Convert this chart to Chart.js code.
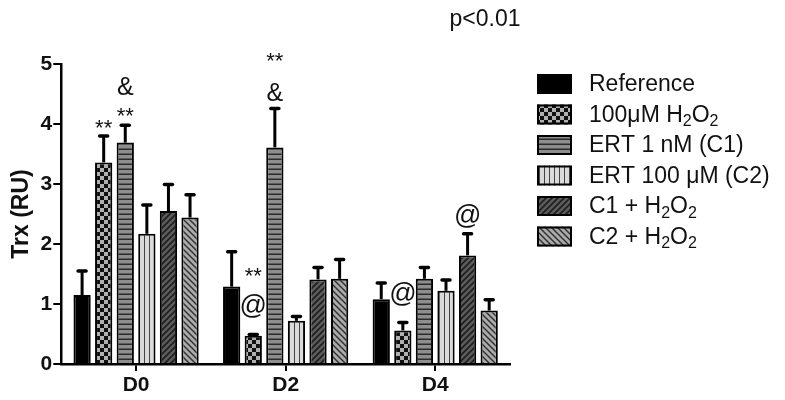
<!DOCTYPE html>
<html>
<head>
<meta charset="utf-8">
<script src="https://cdn.jsdelivr.net/npm/chart.js@4.4.1/dist/chart.umd.min.js"></script>
<style>
  html, body { margin: 0; padding: 0; background: #fff; }
  #wrap { width: 785px; height: 400px; }
</style>
</head>
<body>
<div id="wrap"><canvas id="trxChart" width="785" height="400"></canvas></div>
<script>
// days on the x axis
const days = ['D0', 'D2', 'D4'];
const seriesNames = ['Reference', '100μM H₂O₂', 'ERT 1 nM (C1)', 'ERT 100 μM (C2)', 'C1 + H₂O₂', 'C2 + H₂O₂'];

// mean values (RU)
const reference = [1.15, 1.29, 1.08];
const h2o2 = [3.36, 0.47, 0.56];
const ertC1 = [3.69, 3.61, 1.42];
const ertC2 = [2.17, 0.72, 1.22];
const c1H2o2 = [2.55, 1.41, 1.81];
const c2H2o2 = [2.44, 1.42, 0.89];

// upper error (SEM)
const referenceErr = [0.40, 0.58, 0.27];
const h2o2Err = [0.44, 0.02, 0.13];
const ertC1Err = [0.29, 0.65, 0.19];
const ertC2Err = [0.48, 0.07, 0.18];
const c1H2o2Err = [0.44, 0.20, 0.36];
const c2H2o2Err = [0.38, 0.32, 0.18];

const yTicks = [0, 1, 2, 3, 4, 5];

// significance marks, stacked bottom to top above each bar
const sigMarks = [
  { series: 1, day: 0, text: '**' },
  { series: 2, day: 0, text: '**' },
  { series: 2, day: 0, text: '&' },
  { series: 1, day: 1, text: '@' },
  { series: 1, day: 1, text: '**' },
  { series: 2, day: 1, text: '&' },
  { series: 2, day: 1, text: '**' },
  { series: 1, day: 2, text: '@' },
  { series: 4, day: 2, text: '@' },
];

const FONT = "'Liberation Sans', Arial, sans-serif";

function tile(w, h, draw) {
  const c = document.createElement('canvas');
  c.width = w; c.height = h;
  const g = c.getContext('2d');
  draw(g, w, h);
  return document.createElement('canvas').getContext('2d').createPattern(c, 'repeat');
}

const checker = tile(8, 8, (g) => {
  g.fillStyle = '#b0b0b0'; g.fillRect(0, 0, 8, 8);
  g.fillStyle = '#111'; g.fillRect(0, 0, 4, 4); g.fillRect(4, 4, 4, 4);
});
const hStripes = tile(6, 5, (g) => {
  g.fillStyle = '#8e8e8e'; g.fillRect(0, 0, 6, 5);
  g.fillStyle = '#2a2a2a'; g.fillRect(0, 3.5, 6, 1.5);
});
const vStripes = tile(5, 6, (g) => {
  g.fillStyle = '#dadada'; g.fillRect(0, 0, 5, 6);
  g.fillStyle = '#444'; g.fillRect(4, 0, 1, 6);
});
const diagUp = tile(6, 6, (g) => {
  g.fillStyle = '#5c5c5c'; g.fillRect(0, 0, 6, 6);
  g.strokeStyle = '#1e1e1e'; g.lineWidth = 1.6;
  g.beginPath();
  g.moveTo(0, 6); g.lineTo(6, 0);
  g.moveTo(-1, 1); g.lineTo(1, -1);
  g.moveTo(5, 7); g.lineTo(7, 5);
  g.stroke();
});
const diagDown = tile(6, 6, (g) => {
  g.fillStyle = '#ababab'; g.fillRect(0, 0, 6, 6);
  g.strokeStyle = '#333'; g.lineWidth = 1.5;
  g.beginPath();
  g.moveTo(0, 0); g.lineTo(6, 6);
  g.moveTo(-1, 5); g.lineTo(1, 7);
  g.moveTo(5, -1); g.lineTo(7, 1);
  g.stroke();
});

const fills = ['#000', checker, hStripes, vStripes, diagUp, diagDown];
const values = [reference, h2o2, ertC1, ertC2, c1H2o2, c2H2o2];
const errors = [referenceErr, h2o2Err, ertC1Err, ertC2Err, c1H2o2Err, c2H2o2Err];

const errorBars = {
  id: 'errorBars',
  afterDatasetsDraw(chart) {
    const ctx = chart.ctx;
    const y = chart.scales.y;
    ctx.save();
    ctx.strokeStyle = '#000';
    chart.data.datasets.forEach((ds, i) => {
      const meta = chart.getDatasetMeta(i);
      meta.data.forEach((bar, j) => {
        const top = y.getPixelForValue(ds.data[j] + ds.err[j]);
        ctx.lineWidth = 3;
        ctx.lineCap = 'butt';
        ctx.beginPath();
        ctx.moveTo(bar.x, bar.y);
        ctx.lineTo(bar.x, top);
        ctx.stroke();
        ctx.lineWidth = 3.5;
        ctx.lineCap = 'round';
        ctx.beginPath();
        ctx.moveTo(bar.x - 4, top);
        ctx.lineTo(bar.x + 4, top);
        ctx.stroke();
      });
    });
    ctx.restore();
  }
};

const marksPlugin = {
  id: 'marks',
  afterDatasetsDraw(chart, args, opts) {
    const ctx = chart.ctx;
    const y = chart.scales.y;
    const stackTop = {};
    ctx.save();
    ctx.fillStyle = '#111';
    ctx.textAlign = 'center';
    ctx.textBaseline = 'alphabetic';
    sigMarks.forEach((m, k) => {
      const ds = chart.data.datasets[m.series];
      const bar = chart.getDatasetMeta(m.series).data[m.day];
      const key = m.series + '-' + m.day;
      let bottom = stackTop[key];
      if (bottom === undefined) bottom = y.getPixelForValue(ds.data[m.day] + ds.err[m.day]);
      bottom -= opts.gaps[k];
      ctx.font = opts.sizes[m.text] + 'px ' + FONT;
      const tm = ctx.measureText(m.text);
      const desc = tm.actualBoundingBoxDescent;
      ctx.fillText(m.text, bar.x, bottom - desc);
      stackTop[key] = bottom - desc - tm.actualBoundingBoxAscent;
    });
    // p value note
    ctx.font = '23px ' + FONT;
    ctx.textBaseline = 'middle';
    ctx.fillText('p<0.01', chart.chartArea.right - 25, 20);
    ctx.restore();
  }
};

// legend drawn by hand so the text can carry real subscripts
function drawLabel(ctx, text, x, y, size) {
  let cx = x;
  for (const ch of text) {
    if (ch === '₂') {
      ctx.font = Math.round(size * 0.68) + 'px ' + FONT;
      ctx.fillText('2', cx, y + size * 0.28);
      cx += ctx.measureText('2').width;
    } else {
      ctx.font = size + 'px ' + FONT;
      ctx.fillText(ch, cx, y);
      cx += ctx.measureText(ch).width;
    }
  }
}

const sideLegend = {
  id: 'sideLegend',
  afterDraw(chart, args, opts) {
    const ctx = chart.ctx;
    const left = chart.chartArea.right + opts.offset;
    ctx.save();
    ctx.textAlign = 'left';
    ctx.textBaseline = 'middle';
    chart.data.datasets.forEach((ds, i) => {
      const top = chart.chartArea.top + opts.top + i * opts.rowHeight;
      ctx.fillStyle = ds.backgroundColor;
      ctx.fillRect(left, top, opts.boxWidth, opts.boxHeight);
      ctx.strokeStyle = '#000';
      ctx.lineWidth = 2;
      ctx.strokeRect(left + 1, top + 1, opts.boxWidth - 2, opts.boxHeight - 2);
      ctx.fillStyle = '#111';
      drawLabel(ctx, ds.label, left + opts.boxWidth + opts.gap, top + opts.boxHeight / 2 + 1, opts.fontSize);
    });
    ctx.restore();
  }
};

new Chart(document.getElementById('trxChart'), {
  type: 'bar',
  data: {
    labels: days,
    datasets: seriesNames.map((name, i) => ({
      label: name,
      data: values[i],
      err: errors[i],
      backgroundColor: fills[i],
      borderColor: '#000',
      borderWidth: 2,
      categoryPercentage: 0.866,
      barPercentage: 0.8,
    })),
  },
  options: {
    responsive: false,
    animation: false,
    devicePixelRatio: 1,
    layout: { padding: { top: 64, right: 275, bottom: 0, left: 6 } },
    scales: {
      x: {
        grid: { display: true, drawOnChartArea: false, offset: false, tickLength: 7, color: '#000', lineWidth: 2 },
        border: { display: true, color: '#000', width: 2.5 },
        ticks: { color: '#111', font: { family: FONT, size: 21, weight: 'bold', lineHeight: 1 }, padding: 4 },
      },
      y: {
        min: 0,
        max: 5,
        afterBuildTicks: (s) => { s.ticks = yTicks.map(v => ({ value: v })); },
        grid: { display: true, drawOnChartArea: false, tickLength: 8, color: '#000', lineWidth: 2 },
        border: { display: true, color: '#000', width: 2.5 },
        ticks: { color: '#111', font: { family: FONT, size: 21, weight: 'bold' }, padding: 1 },
        title: { display: true, text: 'Trx (RU)', color: '#111', font: { family: FONT, size: 23, weight: 'bold' }, padding: { top: 2, bottom: 4 } },
      },
    },
    plugins: {
      legend: { display: false },
      tooltip: { enabled: false },
      marks: {
        gaps: [8, 9, 13, 17, 18, 7, 22, 17, 6],
        sizes: { '**': 22, '&': 25, '@': 27 },
      },
      sideLegend: { offset: 27, top: 10, rowHeight: 30.5, boxWidth: 35, boxHeight: 20, gap: 17, fontSize: 23 },
    },
  },
  plugins: [errorBars, marksPlugin, sideLegend],
});
</script>
</body>
</html>
